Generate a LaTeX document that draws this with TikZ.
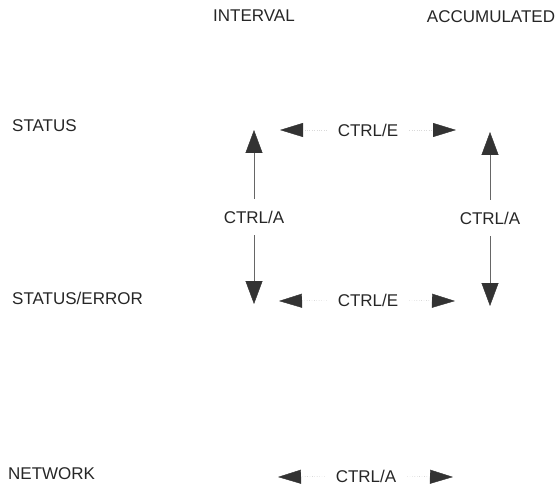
\documentclass[tikz,border=0pt]{standalone}
\usepackage{fontspec}
\setmainfont{Liberation Sans}
\usetikzlibrary{arrows.meta}

\begin{document}
\begin{tikzpicture}[x=1pt, y=-1pt,
		every node/.style={font=\fontsize{17}{17}\selectfont, text=black!85, inner sep=1pt},
		vkey/.style={-{Triangle[length=23pt, width=17pt, color=black!80]}, draw=black!60, thin, shorten <=11pt},
		hkey/.style={-{Triangle[length=23pt, width=14pt, color=black!80]}, draw=black!35, dotted, shorten <=10pt}]
	
	\useasboundingbox (0,0) rectangle (560,492);
	
	% column headers
	\node (interval) at (254,16) {INTERVAL};
	\node (accum) at (491,17) {ACCUMULATED};
	
	% row labels
	\node[anchor=west] (status) at (11,126) {STATUS};
	\node[anchor=west] (staterr) at (11,298) {STATUS/ERROR};
	\node[anchor=west] (network) at (7,474) {NETWORK};
	
	% keys
	\node (ctrlEtop) at (368,130) {CTRL/E};
	\node (ctrlEbot) at (368,300) {CTRL/E};
	\node (ctrlAnet) at (366,476) {CTRL/A};
	\node (ctrlAint) at (254,217) {CTRL/A};
	\node (ctrlAacc) at (490,218) {CTRL/A};
	
	% arrow tips
	\coordinate (intUp) at (254,130);
	\coordinate (intDown) at (254,304);
	\coordinate (accUp) at (490,132);
	\coordinate (accDown) at (490,306);
	\coordinate (topL) at (280,130);
	\coordinate (topR) at (456,130);
	\coordinate (botL) at (279,301);
	\coordinate (botR) at (455,301);
	\coordinate (netL) at (278,477);
	\coordinate (netR) at (453,477);
	
	% vertical keys
	\draw[vkey] (ctrlAint) -- (intUp);
	\draw[vkey] (ctrlAint) -- (intDown);
	\draw[vkey] (ctrlAacc) -- (accUp);
	\draw[vkey] (ctrlAacc) -- (accDown);
	
	% horizontal keys
	\draw[hkey, draw=black!15] (ctrlEtop) -- (topL);
	\draw[hkey, draw=black!15] (ctrlEtop) -- (topR);
	\draw[hkey] (ctrlEbot) -- (botL);
	\draw[hkey] (ctrlEbot) -- (botR);
	\draw[hkey] (ctrlAnet) -- (netL);
	\draw[hkey] (ctrlAnet) -- (netR);
	
\end{tikzpicture}
\end{document}
